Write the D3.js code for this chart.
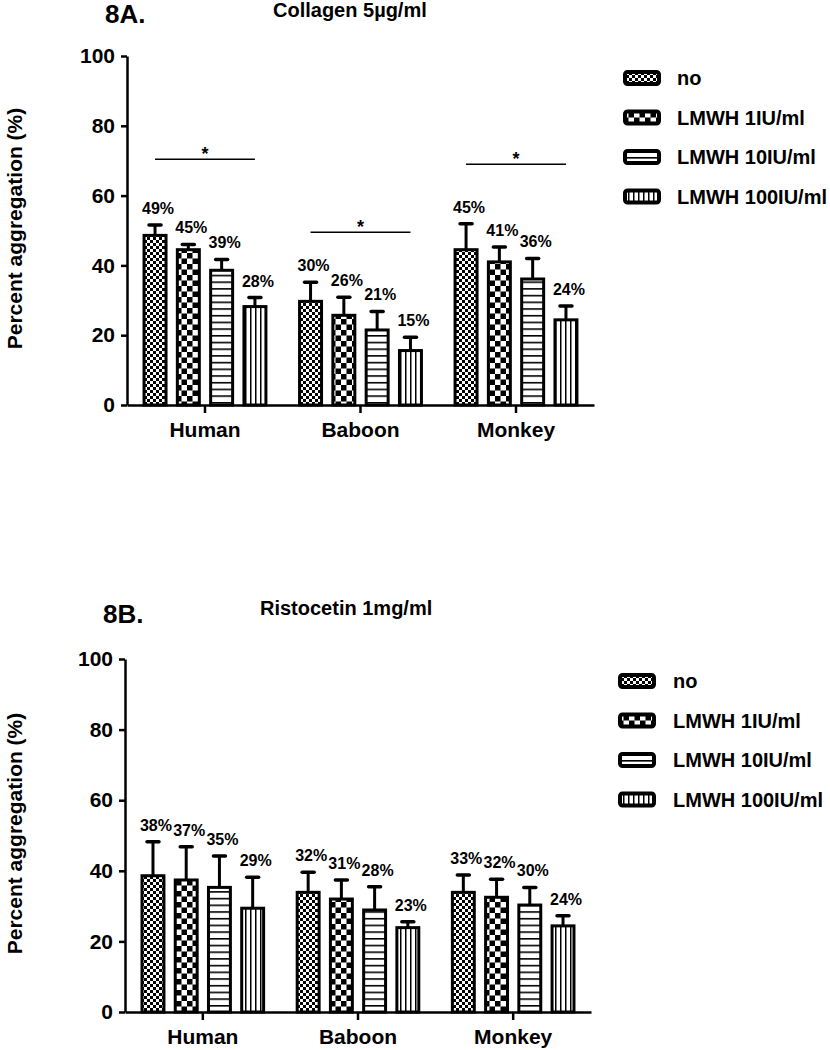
<!DOCTYPE html>
<html><head><meta charset="utf-8">
<script src="https://cdn.jsdelivr.net/npm/d3@7"></script>
<style>
body{margin:0;background:#fff;}
text{font-family:"Liberation Sans",Arial,sans-serif;font-weight:bold;fill:#000;}
</style></head>
<body><svg id="chart" width="830" height="1050"></svg>
<script>
// ---- data ----
const categories = ["Human", "Baboon", "Monkey"];
const series = ["no", "LMWH 1IU/ml", "LMWH 10IU/ml", "LMWH 100IU/ml"];
const yTicks = [0, 20, 40, 60, 80, 100];

// Panel 8A: Collagen 5µg/ml  (rows = categories, cols = series)
const collagenMeans = [[48.6, 44.5, 38.6, 28.2], [29.7, 25.7, 21.5, 15.6], [44.5, 41.0, 36.1, 24.4]];
const collagenErr   = [[3.0, 1.5, 3.1, 2.6], [5.5, 5.2, 5.3, 3.8], [7.4, 4.3, 5.9, 4.0]];
const collagenLabels = [["49%", "45%", "39%", "28%"], ["30%", "26%", "21%", "15%"], ["45%", "41%", "36%", "24%"]];
const collagenSig = [70.4, 49.5, 69.0];   // level of the "*" bracket per category

// Panel 8B: Ristocetin 1mg/ml
const ristoMeans = [[38.6, 37.4, 35.3, 29.4], [33.9, 32.0, 28.9, 23.9], [33.9, 32.5, 30.3, 24.4]];
const ristoErr   = [[9.6, 9.4, 8.9, 8.8], [5.7, 5.4, 6.6, 1.7], [4.9, 5.1, 5.0, 2.9]];
const ristoLabels = [["38%", "37%", "35%", "29%"], ["32%", "31%", "28%", "23%"], ["33%", "32%", "30%", "24%"]];
const ristoSig = [null, null, null];

const svg = d3.select("#chart");
const defs = svg.append("defs");

// ---- patterns ----
function pat(id, w, h, draw) {
  const p = defs.append("pattern").attr("id", id).attr("patternUnits", "userSpaceOnUse")
    .attr("width", w).attr("height", h);
  p.append("rect").attr("width", w).attr("height", h).attr("fill", "#fff");
  draw(p);
}
pat("p0", 6, 6, p => {
  p.append("rect").attr("x", 0).attr("y", 0).attr("width", 3).attr("height", 3).attr("fill", "#000");
  p.append("rect").attr("x", 3).attr("y", 3).attr("width", 3).attr("height", 3).attr("fill", "#000");
});
pat("p1", 11, 11, p => {
  p.append("rect").attr("x", 0).attr("y", 0).attr("width", 5.5).attr("height", 5.5).attr("fill", "#000");
  p.append("rect").attr("x", 5.5).attr("y", 5.5).attr("width", 5.5).attr("height", 5.5).attr("fill", "#000");
});
pat("p2", 10, 6.7, p => {
  p.append("rect").attr("x", 0).attr("y", 0).attr("width", 10).attr("height", 1.6).attr("fill", "#000");
});
pat("p3", 5, 10, p => {
  p.append("rect").attr("x", 0).attr("y", 0).attr("width", 1.5).attr("height", 10).attr("fill", "#000");
});
const fills = ["url(#p0)", "url(#p1)", "url(#p2)", "url(#p3)"];

function drawPanel(cfg) {
  const g = svg.append("g");
  const y = d3.scaleLinear().domain([0, 100]).range([cfg.bottom, cfg.top]);
  const x0 = d3.scaleBand().domain(categories).range([cfg.left, cfg.right]).paddingInner(0.197).paddingOuter(0.1);
  const x1 = d3.scaleBand().domain(series).range([0, x0.bandwidth()]).paddingInner(0.25).paddingOuter(0);

  // titles
  g.append("text").attr("x", cfg.left - 22).attr("y", cfg.titleY).style("font-size", "26px").text(cfg.title);
  g.append("text").attr("x", cfg.subX).attr("y", cfg.subY).style("font-size", "20px").text(cfg.subtitle);

  // y label
  g.append("text").attr("transform", `translate(22,${(cfg.top + cfg.bottom) / 2 - 2}) rotate(-90)`)
    .attr("text-anchor", "middle").style("font-size", "21px").text("Percent aggregation (%)");

  // bars
  const data = [];
  categories.forEach((c, i) => series.forEach((s, j) => data.push({
    c, s, j, v: cfg.means[i][j], e: cfg.errs[i][j], lab: cfg.labels[i][j]
  })));
  const bw = x1.bandwidth();
  const sw = 3;
  // error bars
  const eb = g.append("g").selectAll("g").data(data).join("g");
  eb.append("line")
    .attr("x1", d => x0(d.c) + x1(d.s) + bw / 2).attr("x2", d => x0(d.c) + x1(d.s) + bw / 2)
    .attr("y1", d => y(d.v)).attr("y2", d => y(d.v + d.e))
    .attr("stroke", "#000").attr("stroke-width", 3);
  eb.append("line")
    .attr("x1", d => x0(d.c) + x1(d.s) + bw / 2 - 6).attr("x2", d => x0(d.c) + x1(d.s) + bw / 2 + 6)
    .attr("y1", d => y(d.v + d.e)).attr("y2", d => y(d.v + d.e))
    .attr("stroke", "#000").attr("stroke-width", 3.5).attr("stroke-linecap", "round");
  g.append("g").selectAll("rect").data(data).join("rect")
    .attr("x", d => x0(d.c) + x1(d.s) + sw / 2)
    .attr("width", bw - sw)
    .attr("y", d => y(d.v))
    .attr("height", d => y(0) - y(d.v))
    .attr("fill", d => fills[d.j]).attr("stroke", "#000").attr("stroke-width", sw);
  // value labels
  g.append("g").selectAll("text").data(data).join("text")
    .attr("x", d => x0(d.c) + x1(d.s) + bw / 2 + 3)
    .attr("y", d => y(d.v + d.e) - 11)
    .attr("text-anchor", "middle").style("font-size", "16px").text(d => d.lab);

  // significance brackets
  categories.forEach((c, i) => {
    const lv = cfg.sig[i];
    if (lv == null) return;
    const xa = x0(c) + x1(series[0]) + bw / 2, xb = x0(c) + x1(series[3]) + bw / 2;
    g.append("line").attr("x1", xa).attr("x2", xb).attr("y1", y(lv)).attr("y2", y(lv))
      .attr("stroke", "#000").attr("stroke-width", 1.5);
    g.append("text").attr("x", (xa + xb) / 2).attr("y", y(lv) + 1).attr("text-anchor", "middle")
      .style("font-size", "18px").text("*");
  });

  // axes
  const ya = g.append("g").attr("transform", `translate(${cfg.left},0)`)
    .call(d3.axisLeft(y).tickValues(yTicks).tickSize(6).tickSizeOuter(0).tickPadding(6));
  ya.selectAll("text").style("font-size", "21px").style("font-family", "Liberation Sans, Arial, sans-serif").style("font-weight", "bold");
  const xa = g.append("g").attr("transform", `translate(0,${cfg.bottom})`)
    .call(d3.axisBottom(x0).tickSize(8).tickSizeOuter(0).tickPadding(9));
  xa.selectAll("text").style("font-size", "21px").style("font-family", "Liberation Sans, Arial, sans-serif").style("font-weight", "bold");
  g.selectAll(".domain, .tick line").attr("stroke", "#000").attr("stroke-width", 2.5);

  // legend
  const lg = g.append("g").selectAll("g").data(series).join("g")
    .attr("transform", (d, i) => `translate(${cfg.legX},${cfg.legY + i * 39.5})`);
  lg.append("rect").attr("x", 2).attr("y", -6).attr("width", 34).attr("height", 12).attr("rx", 2.5)
    .attr("fill", (d, i) => fills[i]).attr("stroke", "#000").attr("stroke-width", 4);
  lg.append("text").attr("x", cfg.legTextX - cfg.legX).attr("y", 7).style("font-size", "20px").text(d => d);
}

drawPanel({
  title: "8A.", subtitle: "Collagen 5µg/ml", means: collagenMeans, errs: collagenErr,
  labels: collagenLabels, sig: collagenSig,
  left: 127, right: 594, top: 56, bottom: 405, titleY: 23, subX: 273, subY: 17,
  legX: 623, legY: 78, legTextX: 677
});
drawPanel({
  title: "8B.", subtitle: "Ristocetin 1mg/ml", means: ristoMeans, errs: ristoErr,
  labels: ristoLabels, sig: ristoSig,
  left: 125, right: 591, top: 659, bottom: 1012, titleY: 623, subX: 260, subY: 615,
  legX: 618, legY: 681, legTextX: 673
});
</script></body></html>
